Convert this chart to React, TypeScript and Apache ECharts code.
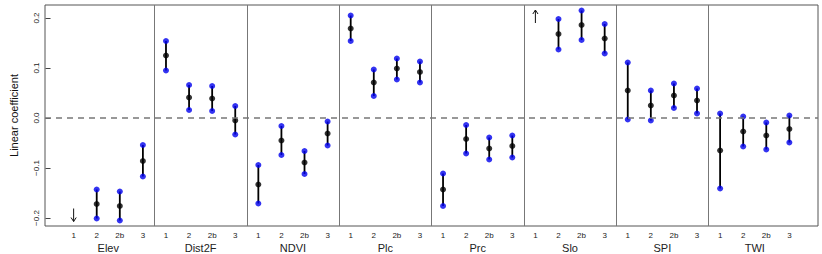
import React, { useEffect, useRef } from "react";
import * as echarts from "echarts";

const groups = ["Elev", "Dist2F", "NDVI", "Plc", "Prc", "Slo", "SPI", "TWI"];
const categories = ["1", "2", "2b", "3"];

const estimates = [
  null, -0.172, -0.176, -0.086,
  0.125, 0.041, 0.039, -0.005,
  -0.133, -0.045, -0.089, -0.031,
  0.179, 0.071, 0.099, 0.092,
  -0.143, -0.042, -0.061, -0.056,
  null, 0.168, 0.186, 0.159,
  0.055, 0.025, 0.045, 0.035,
  -0.065, -0.027, -0.035, -0.022,
];
const lower = [
  null, -0.201, -0.205, -0.117,
  0.095, 0.016, 0.014, -0.033,
  -0.171, -0.074, -0.112, -0.055,
  0.154, 0.044, 0.077, 0.071,
  -0.176, -0.071, -0.083, -0.079,
  null, 0.137, 0.156, 0.129,
  -0.003, -0.005, 0.02, 0.009,
  -0.141, -0.057, -0.063, -0.049,
];
const upper = [
  null, -0.143, -0.147, -0.054,
  0.154, 0.066, 0.064, 0.024,
  -0.094, -0.016, -0.066, -0.007,
  0.205, 0.097, 0.119, 0.113,
  -0.111, -0.014, -0.039, -0.035,
  null, 0.198, 0.215, 0.188,
  0.111, 0.055, 0.069, 0.059,
  0.009, 0.003, -0.009, 0.005,
];
// off-scale markers (index into the 32 positions, y of arrow centre, direction)
const arrowIndex = [0, 20];
const arrowY = [-0.194, 0.203];
const arrowDir = [1, -1]; // 1 = down, -1 = up

const yTicks = [-0.2, -0.1, 0, 0.1, 0.2];

const FONT = "'Liberation Sans', Arial, Helvetica, sans-serif";

export default function App() {
  const ref = useRef<HTMLDivElement>(null);
  useEffect(() => {
    if (!ref.current) return;
    const chart = echarts.init(ref.current, null, { renderer: "svg" });
    const n = groups.length * categories.length;
    const positions = Array.from({ length: n }, (_, i) => i + 1);
    const intervals = positions
      .map((x, i) => (lower[i] == null ? null : [x, lower[i], upper[i]]))
      .filter((d) => d != null);
    const blue: any[] = [];
    positions.forEach((x, i) => {
      if (lower[i] != null) {
        blue.push([x, lower[i]]);
        blue.push([x, upper[i]]);
      }
    });
    const black = positions
      .map((x, i) => (estimates[i] == null ? null : [x, estimates[i]]))
      .filter((d) => d != null);
    const arrows = arrowIndex.map((idx, k) => [idx + 1, arrowY[k], arrowDir[k]]);
    const separators = groups.slice(1).map((_, g) => ({ xAxis: (g + 1) * categories.length + 0.5 }));
    const groupCenters = groups.map((_, g) => g * categories.length + (categories.length + 1) / 2);

    const xMin = -0.24;
    const xMax = n + 1.24;

    chart.setOption({
      animation: false,
      grid: {
        left: 33.5,
        right: 4,
        top: 5,
        bottom: 28,
        show: true,
        borderColor: "#555",
        borderWidth: 1,
        backgroundColor: "transparent",
      },
      xAxis: [
        {
          type: "value",
          min: xMin,
          max: xMax,
          position: "bottom",
          axisLine: { show: false },
          axisTick: { show: false },
          splitLine: { show: false },
          axisLabel: {
            customValues: positions,
            formatter: (v: number) => categories[(Math.round(v) - 1) % categories.length],
            fontSize: 8,
            fontFamily: FONT,
            color: "#222",
            margin: 5,
          },
        },
        {
          type: "value",
          min: xMin,
          max: xMax,
          position: "bottom",
          axisLine: { show: false },
          axisTick: { show: false },
          splitLine: { show: false },
          axisLabel: {
            customValues: groupCenters,
            formatter: (v: number) => groups[Math.round((v - 2.5) / categories.length)],
            fontSize: 11,
            fontFamily: FONT,
            color: "#222",
            margin: 16,
          },
        },
      ],
      yAxis: {
        type: "value",
        min: -0.216,
        max: 0.226,
        name: "Linear coefficient",
        nameLocation: "middle",
        nameRotate: 90,
        nameGap: 26,
        nameTextStyle: { fontSize: 11, fontFamily: FONT, color: "#111" },
        axisLine: { show: false },
        splitLine: { show: false },
        axisTick: {
          show: true,
          customValues: yTicks,
          length: 5,
          lineStyle: { color: "#444", width: 1 },
        },
        axisLabel: {
          customValues: yTicks,
          rotate: 90,
          formatter: (v: number) => (v < 0 ? "\u2212" + Math.abs(v).toFixed(1) : v.toFixed(1)),
          fontSize: 8,
          fontFamily: FONT,
          color: "#222",
          margin: 5,
        },
      },
      series: [
        {
          type: "custom",
          xAxisIndex: 0,
          data: intervals,
          renderItem: (params: any, api: any) => {
            const p1 = api.coord([api.value(0), api.value(1)]);
            const p2 = api.coord([api.value(0), api.value(2)]);
            return {
              type: "line",
              shape: { x1: p1[0], y1: p1[1], x2: p2[0], y2: p2[1] },
              style: { stroke: "#000", lineWidth: 1.8 },
            };
          },
          z: 2,
          markLine: {
            silent: true,
            symbol: "none",
            label: { show: false },
            animation: false,
            data: [
              ...separators.map((s) => ({ ...s, lineStyle: { color: "#777", width: 1, type: "solid" } })),
              { yAxis: 0, lineStyle: { color: "#777", width: 1.6, type: [6, 5] } },
            ],
          },
        },
        {
          type: "scatter",
          data: blue,
          symbol: "circle",
          symbolSize: 6,
          itemStyle: { color: "#0000ee" },
          z: 3,
        },
        {
          type: "scatter",
          data: black,
          symbol: "circle",
          symbolSize: 6,
          itemStyle: { color: "#000" },
          z: 4,
        },
        {
          type: "custom",
          data: arrows,
          renderItem: (params: any, api: any) => {
            const p = api.coord([api.value(0), api.value(1)]);
            const d = api.value(2);
            const half = 6.5;
            const tipY = p[1] + d * half;
            const style = { stroke: "#111", lineWidth: 1, fill: "none" };
            return {
              type: "group",
              children: [
                {
                  type: "line",
                  shape: { x1: p[0], y1: p[1] - d * half, x2: p[0], y2: tipY },
                  style,
                },
                {
                  type: "polyline",
                  shape: {
                    points: [
                      [p[0] - 2.6, tipY - d * 4],
                      [p[0], tipY],
                      [p[0] + 2.6, tipY - d * 4],
                    ],
                  },
                  style,
                },
              ],
            };
          },
          z: 5,
        },
      ],
    });
    return () => chart.dispose();
  }, []);
  return <div ref={ref} style={{ width: 822, height: 254, position: "absolute", left: 0, top: 0 }} />;
}
